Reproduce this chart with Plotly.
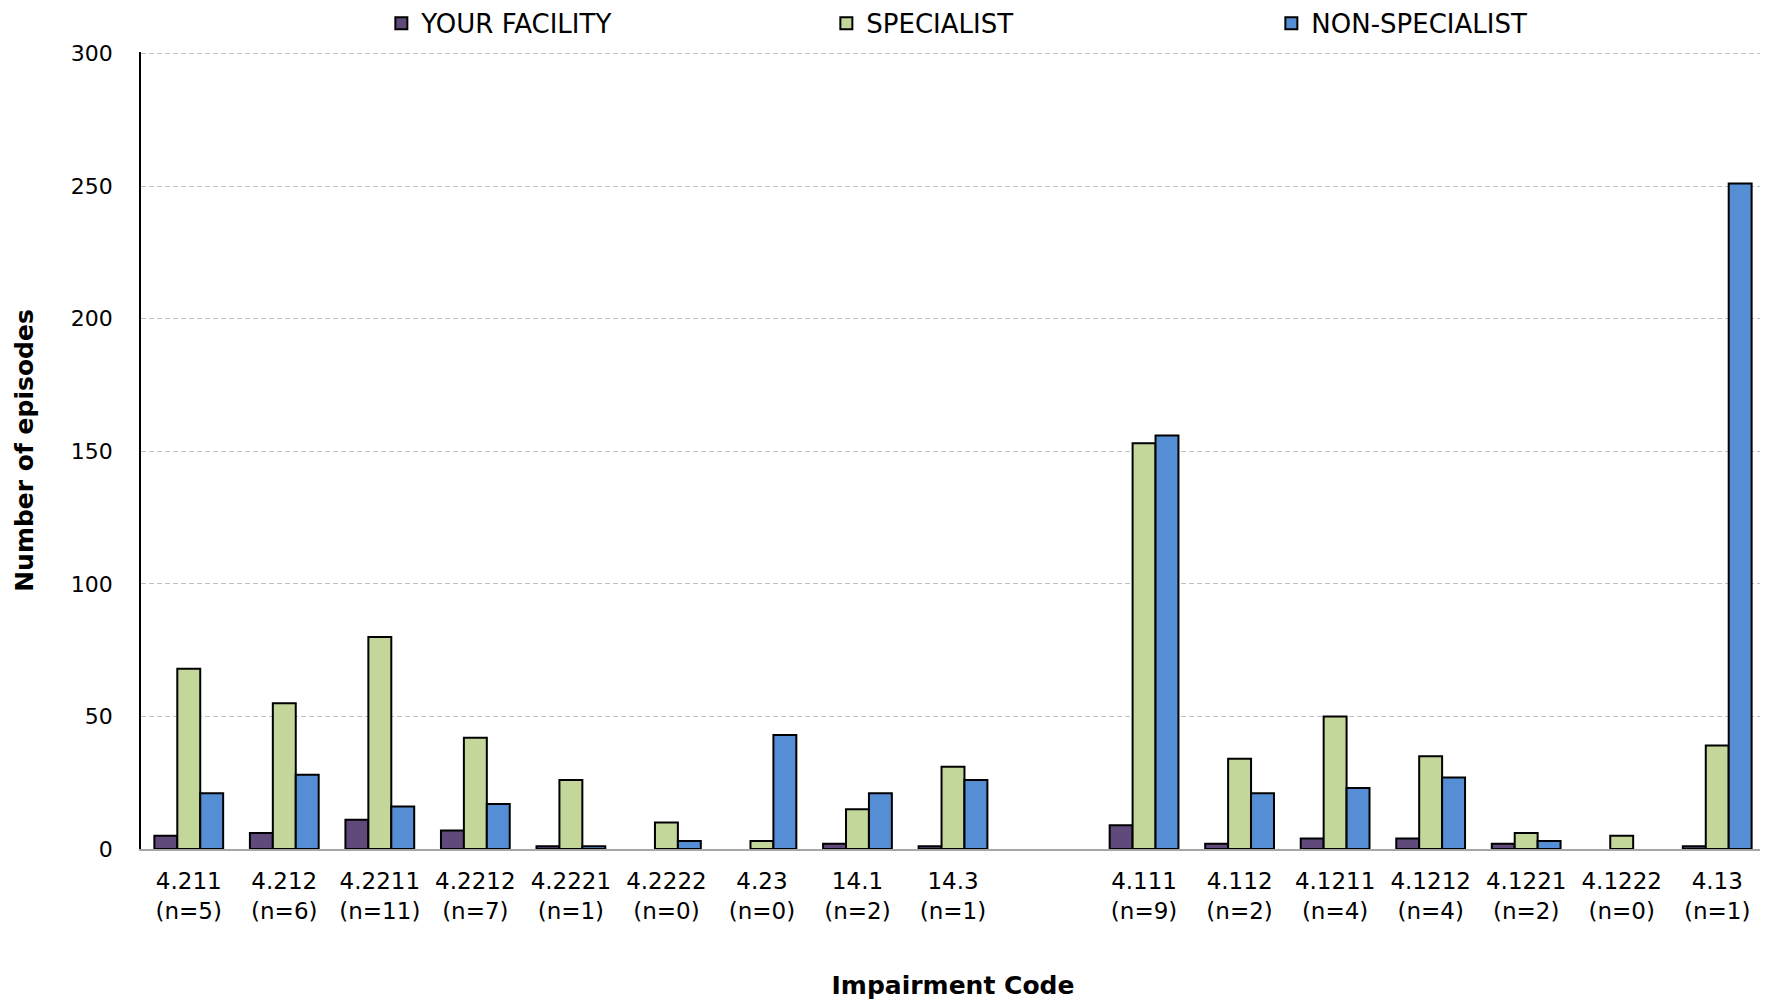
import plotly.graph_objects as go

codes = ['4.211', '4.212', '4.2211', '4.2212', '4.2221', '4.2222', '4.23', '14.1', '14.3',
         '',
         '4.111', '4.112', '4.1211', '4.1212', '4.1221', '4.1222', '4.13']
n_counts = [5, 6, 11, 7, 1, 0, 0, 2, 1,
            None,
            9, 2, 4, 4, 2, 0, 1]

your_facility = [5, 6, 11, 7, 1, 0, 0, 2, 1,
                 None,
                 9, 2, 4, 4, 2, 0, 1]
specialist = [68, 55, 80, 42, 26, 10, 3, 15, 31,
              None,
              153, 34, 50, 35, 6, 5, 39]
non_specialist = [21, 28, 16, 17, 1, 3, 43, 21, 26,
                  None,
                  156, 21, 23, 27, 3, 0, 251]

labels = []
for c, n in zip(codes, n_counts):
    if n is None:
        labels.append(' ')
    else:
        labels.append(f'{c}<br>(n={n})')

font = 'DejaVu Sans'


def outline(vals):
    # no outline on empty bars, so zero values draw nothing
    return [0 if not v else 2 for v in vals]


fig = go.Figure()

fig.add_trace(go.Bar(
    x=labels, y=your_facility, name='YOUR FACILITY',
    marker=dict(color='#5F4A7B', line=dict(color='black', width=outline(your_facility))),
))
fig.add_trace(go.Bar(
    x=labels, y=specialist, name='SPECIALIST',
    marker=dict(color='#C4D79B', line=dict(color='black', width=outline(specialist))),
))
fig.add_trace(go.Bar(
    x=labels, y=non_specialist, name='NON-SPECIALIST',
    marker=dict(color='#558ED5', line=dict(color='black', width=outline(non_specialist))),
))

# page body adds an 8px offset, margins are set to compensate
fig.update_layout(
    width=1768, height=1003,
    barmode='group',
    bargap=0.28,
    bargroupgap=0,
    plot_bgcolor='white',
    paper_bgcolor='white',
    margin=dict(l=133, r=11, t=44, b=162, autoexpand=False),
    font=dict(family=font, size=22, color='black'),
    legend=dict(
        orientation='h',
        x=0.148, xanchor='left',
        y=1.036, yanchor='middle',
        font=dict(size=26),
        entrywidth=400, entrywidthmode='pixels',
        traceorder='normal',
    ),
)

fig.update_xaxes(
    type='category',
    categoryorder='array', categoryarray=labels,
    showline=True, linecolor='#A6A6A6', linewidth=2,
    showgrid=False, ticks='',
    tickfont=dict(size=23),
    ticklabelstandoff=10,
    automargin=False,
    title=dict(text='<b>Impairment Code</b>', font=dict(size=25), standoff=54),
)

# a hair above 300 so the top dashed gridline is still drawn
fig.update_yaxes(
    range=[0, 300.6],
    tick0=0, dtick=50,
    showline=True, linecolor='black', linewidth=1.5,
    showgrid=True, gridcolor='#C0C0C0', gridwidth=1, griddash='5px,3px',
    zeroline=False,
    ticks='',
    tickfont=dict(size=22),
    ticklabelstandoff=22,
    automargin=False,
    title=dict(text='<b>Number of episodes</b>', font=dict(size=25), standoff=30),
)

fig.write_html('out.html')
